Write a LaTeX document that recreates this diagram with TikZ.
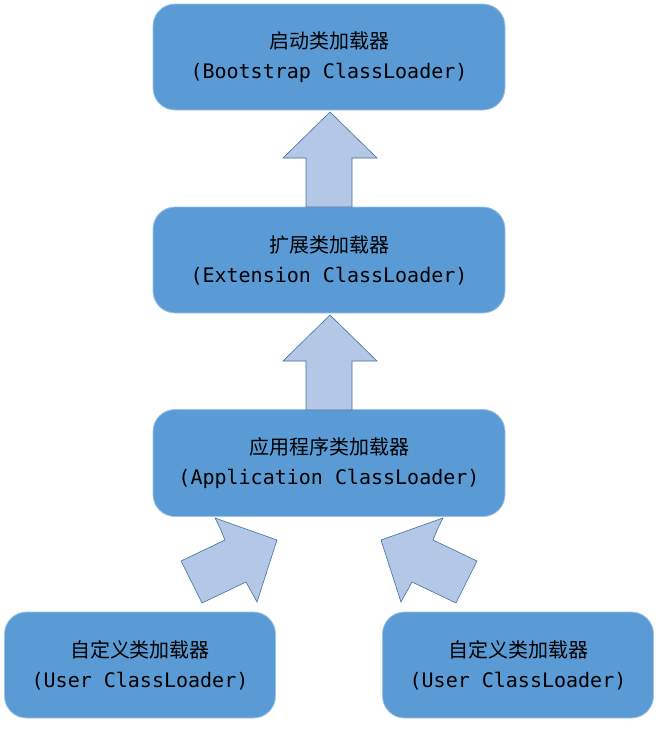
\documentclass[tikz,border=0pt]{standalone}
\usepackage{fontspec}
\setmonofont{DejaVu Sans Mono}
\newfontfamily\cjk{Noto Sans CJK SC}
\usetikzlibrary{positioning}
\definecolor{boxblue}{HTML}{5B9BD5}
\definecolor{boxedge}{HTML}{9DC3E6}
\definecolor{arrfill}{HTML}{B4C7E7}
\definecolor{arredge}{HTML}{41719C}

\begin{document}
\begin{tikzpicture}[x=1pt, y=-1pt,
    loader/.style = {draw=boxedge, fill=boxblue, rounded corners=22pt, line width=0.8pt,
        align=center, inner sep=0pt, font=\fontsize{20}{30}\selectfont},
    block/.style = {draw=arredge, fill=arrfill, line width=0.6pt}]
    \useasboundingbox (0,0) rectangle (661,729);

    \node[loader, minimum width=352pt, minimum height=106pt] (boot) at (329,57)
        {{\cjk 启动类加载器}\\\texttt{(Bootstrap ClassLoader)}};
    \node[loader, minimum width=352pt, minimum height=106pt] (ext) at (329,260)
        {{\cjk 扩展类加载器}\\\texttt{(Extension ClassLoader)}};
    \node[loader, minimum width=352pt, minimum height=107pt] (app) at (329,463)
        {{\cjk 应用程序类加载器}\\\texttt{(Application ClassLoader)}};
    \node[loader, minimum width=271pt, minimum height=106pt] (user1) at (140,665)
        {{\cjk 自定义类加载器}\\\texttt{(User ClassLoader)}};
    \node[loader, minimum width=271pt, minimum height=106pt] (user2) at (518,665)
        {{\cjk 自定义类加载器}\\\texttt{(User ClassLoader)}};

    % block arrows
    \draw[block] (306,207) -- (306,158) -- (283,158) -- (330,112) -- (377,158) -- (352,158) -- (352,207) -- cycle;
    \draw[block] (306,410) -- (306,361) -- (283,361) -- (330,315) -- (377,361) -- (352,361) -- (352,410) -- cycle;
    \draw[block] (181,561) -- (225,540) -- (220,528) -- (215,518) -- (277,540) -- (257,602) -- (246,582) -- (202,603) -- cycle;
    \draw[block] (477,561) -- (433,540) -- (438,528) -- (443,518) -- (381,540) -- (401,602) -- (412,582) -- (456,603) -- cycle;
\end{tikzpicture}
\end{document}
